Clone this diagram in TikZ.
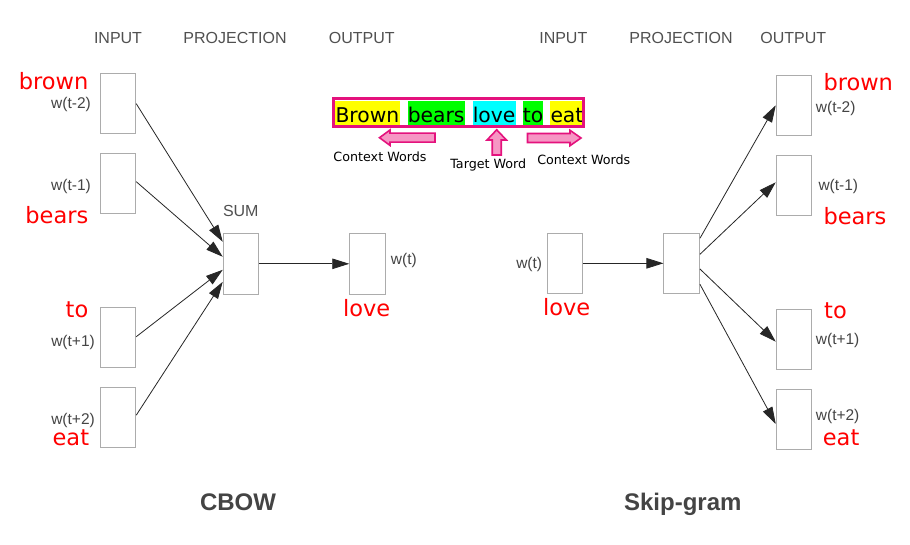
\documentclass[tikz,border=0pt]{standalone}
\usepackage{fontspec}
\setmainfont{Liberation Sans}
\newfontfamily\dvs{DejaVu Sans}
\usetikzlibrary{arrows.meta}
\definecolor{boxgray}{RGB}{172,172,172}
\definecolor{hdrgray}{RGB}{80,80,80}
\definecolor{lblgray}{RGB}{68,68,68}
\definecolor{wordred}{RGB}{255,0,0}
\definecolor{framepink}{RGB}{228,18,125}
\definecolor{arrowpink}{RGB}{246,150,196}
\definecolor{hlyellow}{RGB}{255,255,0}
\definecolor{hlgreen}{RGB}{0,255,0}
\definecolor{hlcyan}{RGB}{0,255,255}
\begin{document}
\begin{tikzpicture}[x=1pt,y=-1pt,
 vbox/.style={draw=boxgray,line width=1pt,fill=white,minimum width=35.5pt,minimum height=60.5pt,inner sep=0pt},
 hdr/.style={text=hdrgray,font=\fontsize{16}{18}\selectfont,inner sep=0pt},
 wlbl/.style={text=lblgray,font=\fontsize{15.5}{18}\selectfont,inner sep=0pt},
 redw/.style={text=wordred,font=\dvs\fontsize{22.5}{26}\selectfont,inner sep=0pt},
 ttl/.style={text=lblgray,font=\bfseries\fontsize{24}{28}\selectfont,inner sep=0pt,anchor=base},
 conn/.style={draw=black!85,line width=0.8pt,-{Triangle[length=17pt,width=10.5pt]}},
 hl/.style={font=\dvs\fontsize{20.3}{24}\selectfont,inner xsep=0.3pt,inner ysep=0pt,text height=21pt,text depth=3.4pt,anchor=base west},
 blockarrow/.style={draw=framepink,line width=1.6pt,fill=arrowpink,line join=miter},
 small/.style={font=\dvs\fontsize{12.7}{15}\selectfont,inner sep=0pt}
]
\useasboundingbox[fill=white] (0,0) rectangle (910,545);

% headers
\node[hdr] (h1) at (118,38) {INPUT};
\node[hdr] (h2) at (235,38) {PROJECTION};
\node[hdr] (h3) at (361.7,38) {OUTPUT};
\node[hdr] (h4) at (563.3,38) {INPUT};
\node[hdr] (h5) at (681,38) {PROJECTION};
\node[hdr] (h6) at (793.3,38) {OUTPUT};

% CBOW boxes
\node[vbox] (in1) at (118,103.7) {};
\node[vbox] (in2) at (118,183.7) {};
\node[vbox] (in3) at (118,337.7) {};
\node[vbox] (in4) at (118,417.7) {};
\node[vbox] (sum) at (241,263.8) {};
\node[vbox] (out) at (367.5,263.8) {};

% Skip-gram boxes
\node[vbox] (sin) at (565,263.3) {};
\node[vbox] (proj) at (681.7,263.3) {};
\node[vbox] (o1) at (794,105.3) {};
\node[vbox] (o2) at (794,185.3) {};
\node[vbox] (o3) at (794,339.3) {};
\node[vbox] (o4) at (794,419.3) {};

% CBOW connectors
\draw[conn] (in1.east) -- ([yshift=22pt]sum.west);
\draw[conn] ([yshift=2pt]in2.east) -- ([yshift=7pt]sum.west);
\draw[conn] ([yshift=1pt]in3.east) -- ([yshift=-6pt]sum.west);
\draw[conn] ([yshift=2.5pt]in4.east) -- ([yshift=-18pt]sum.west);
\draw[conn] (sum.east) -- (out.west);

% Skip-gram connectors
\draw[conn] (sin.east) -- (proj.west);
\draw[conn] ([yshift=25pt]proj.east) -- (o1.west);
\draw[conn] ([yshift=9pt]proj.east) -- ([yshift=3pt]o2.west);
\draw[conn] ([yshift=-5.7pt]proj.east) -- ([yshift=-2.4pt]o3.west);
\draw[conn] ([yshift=-21pt]proj.east) -- ([yshift=-4.7pt]o4.west);

% CBOW labels
\node[wlbl,anchor=east] (l1) at (91,104) {w(t-2)};
\node[wlbl,anchor=east] (l2) at (91,186) {w(t-1)};
\node[wlbl,anchor=east] (l3) at (95,342.7) {w(t+1)};
\node[wlbl,anchor=east] (l4) at (95,420) {w(t+2)};
\node[hdr] (sumlbl) at (240.8,210.7) {SUM};
\node[wlbl,anchor=west] (l5) at (390.7,260) {w(t)};

\node[redw,anchor=base east] (r1) at (88.5,90) {brown};
\node[redw,anchor=base east] (r2) at (88.5,224) {bears};
\node[redw,anchor=base east] (r3) at (88.5,317.3) {to};
\node[redw,anchor=base east] (r4) at (89.3,445) {eat};
\node[redw,anchor=base] (r5) at (366.7,316.7) {love};

% Skip-gram labels
\node[wlbl,anchor=east] (s0) at (542.3,264.3) {w(t)};
\node[wlbl,anchor=west] (s1) at (815.7,108.3) {w(t-2)};
\node[wlbl,anchor=west] (s2) at (818.3,186.7) {w(t-1)};
\node[wlbl,anchor=west] (s3) at (815.7,340) {w(t+1)};
\node[wlbl,anchor=west] (s4) at (815.7,416.7) {w(t+2)};

\node[redw,anchor=base] (q0) at (566.7,315.5) {love};
\node[redw,anchor=base west] (q1) at (823.3,90.5) {brown};
\node[redw,anchor=base west] (q2) at (823.3,225) {bears};
\node[redw,anchor=base west] (q3) at (824,318) {to};
\node[redw,anchor=base west] (q4) at (822.7,445) {eat};

% titles
\node[ttl] (t1) at (238,510.7) {CBOW};
\node[ttl] (t2) at (682.8,510.3) {Skip-gram};

% banner
\node[hl,fill=hlyellow] (w1) at (335,122.3) {Brown};
\node[hl,fill=hlgreen] (w2) at (407.3,122.3) {bears};
\node[hl,fill=hlcyan] (w3) at (472.3,122.3) {love};
\node[hl,fill=hlgreen] (w4) at (522.3,122.3) {to};
\node[hl,fill=hlyellow] (w5) at (550,122.3) {eat};
\node[draw=framepink,line width=3pt,minimum width=250.3pt,minimum height=28.6pt,inner sep=0pt] (banner) at (458.35,112.5) {};

% block arrows
\draw[blockarrow] (435,133.2) -- (390,133.2) -- (390,130) -- (379.5,137.7) -- (390,145.4) -- (390,142.2) -- (435,142.2) -- cycle;
\draw[blockarrow] (527.5,133.5) -- (570,133.5) -- (570,130.3) -- (581,138) -- (570,145.7) -- (570,142.5) -- (527.5,142.5) -- cycle;
\draw[blockarrow] (492.2,155) -- (492.2,140) -- (487,140) -- (496.7,129.8) -- (506.4,140) -- (501.2,140) -- (501.2,155) -- cycle;

\node[small] (c1) at (380,156.7) {Context Words};
\node[small] (c2) at (488.3,165) {Target Word};
\node[small] (c3) at (583.8,159.3) {Context Words};
\end{tikzpicture}
\end{document}
